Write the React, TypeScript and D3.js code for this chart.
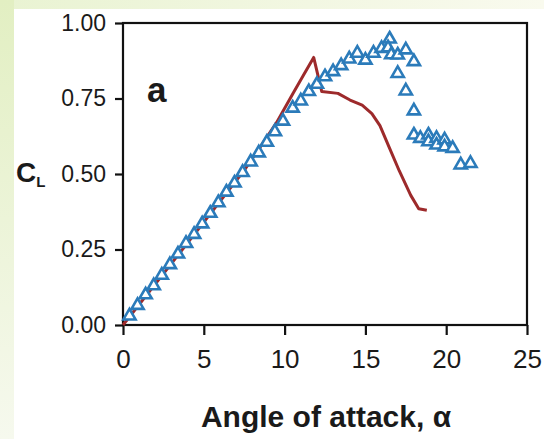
import React, { useEffect, useRef } from "react"
import * as d3 from "d3"

const xTicks = [0, 5, 10, 15, 20, 25]
const yTicks = [0, 0.25, 0.5, 0.75, 1.0]

// experiment (triangles)
const expAlpha = [
    0.4, 0.9, 1.4, 1.9, 2.4, 2.9, 3.4, 3.9, 4.4, 4.9, 5.4, 5.9, 6.4, 6.9, 7.4, 7.9, 8.4, 8.9, 9.4, 9.9,
    10.5, 11.0, 11.5, 12.0, 12.5, 13.0, 13.5, 14.0, 14.5, 15.0, 15.5, 16.0, 16.5, 16.4, 16.6, 17.0, 17.5,
    18.0, 17.0, 17.5, 18.0, 18.0, 18.4, 18.9, 18.9, 19.4, 19.4, 19.9, 19.9, 20.4, 20.9, 21.5,
]
const expCl = [
    0.03, 0.065, 0.1, 0.13, 0.165, 0.2, 0.235, 0.27, 0.3, 0.335, 0.37, 0.405, 0.44, 0.47, 0.505, 0.54, 0.57, 0.605, 0.64, 0.675,
    0.718, 0.742, 0.773, 0.797, 0.822, 0.839, 0.859, 0.881, 0.9, 0.877, 0.9, 0.916, 0.947, 0.918, 0.895, 0.894, 0.911,
    0.872, 0.833, 0.775, 0.709, 0.629, 0.618, 0.629, 0.607, 0.618, 0.596, 0.613, 0.59, 0.585, 0.53, 0.535,
]

// simulation (red line)
const simAlpha = [0, 4, 7.5, 8.5, 9.5, 10.5, 11.2, 11.8, 12.3, 13.3, 14.05, 14.8, 15.4, 15.9, 16.5, 17.1, 17.8, 18.3, 18.8]
const simCl = [0.0, 0.272, 0.512, 0.59, 0.67, 0.765, 0.83, 0.886, 0.773, 0.767, 0.745, 0.728, 0.7, 0.66, 0.585, 0.51, 0.43, 0.385, 0.38]

const FONT = "'Liberation Sans', Arial, Helvetica, sans-serif"

function App() {
    const svgRef = useRef<SVGSVGElement>(null)

    useEffect(() => {
        const width = 544
        const height = 439

        const svg = d3.select(svgRef.current)
        svg.selectAll("*").remove()
        svg.attr("width", width).attr("height", height)

        // page background: green strip on left and top
        const defs = svg.append("defs")
        const lg = defs.append("linearGradient").attr("id", "bgLeft")
            .attr("x1", 0).attr("y1", 0).attr("x2", 0).attr("y2", 1)
        lg.append("stop").attr("offset", "0%").attr("stop-color", "#e2efc2")
        lg.append("stop").attr("offset", "100%").attr("stop-color", "#f6f9ee")
        const tg = defs.append("linearGradient").attr("id", "bgTop")
            .attr("x1", 0).attr("y1", 0).attr("x2", 1).attr("y2", 0)
        tg.append("stop").attr("offset", "0%").attr("stop-color", "#e9f3d2")
        tg.append("stop").attr("offset", "100%").attr("stop-color", "#f9faee")

        svg.append("rect").attr("width", width).attr("height", height).attr("fill", "url(#bgTop)")
        svg.append("rect").attr("width", 14).attr("height", height).attr("fill", "url(#bgLeft)")
        svg.append("rect").attr("x", 14).attr("y", 9).attr("width", width - 14).attr("height", height - 9).attr("fill", "#ffffff")

        const x = d3.scaleLinear().domain([0, 25]).range([123, 527])
        const y = d3.scaleLinear().domain([0, 1]).range([325, 23])

        // frame
        svg.append("rect")
            .attr("x", x(0)).attr("y", y(1))
            .attr("width", x(25) - x(0)).attr("height", y(0) - y(1))
            .attr("fill", "none").attr("stroke", "#111").attr("stroke-width", 2.2)

        const xAxis = svg.append("g")
            .attr("transform", `translate(0,${y(0)})`)
            .call(d3.axisBottom(x).tickValues(xTicks).tickSize(10).tickSizeOuter(0).tickPadding(15))
        xAxis.select(".domain").remove()
        xAxis.selectAll("line").attr("stroke", "#111").attr("stroke-width", 2.2)
        xAxis.selectAll("text")
            .attr("fill", "#1a1a1a")
            .style("font-family", FONT)
            .style("font-size", "26px")

        const yAxis = svg.append("g")
            .attr("transform", `translate(${x(0)},0)`)
            .call(d3.axisLeft(y).tickValues(yTicks).tickSize(8).tickSizeOuter(0).tickPadding(9).tickFormat(d3.format(".2f")))
        yAxis.select(".domain").remove()
        yAxis.selectAll("line").attr("stroke", "#111").attr("stroke-width", 2.2)
        yAxis.selectAll("text")
            .attr("fill", "#1a1a1a")
            .style("font-family", FONT)
            .style("font-size", "23px")

        // red line
        const line = d3.line<number>()
            .x((d, i) => x(simAlpha[i]))
            .y((d) => y(d))
        svg.append("path")
            .datum(simCl)
            .attr("d", line)
            .attr("fill", "none")
            .attr("stroke", "#9d2a2b")
            .attr("stroke-width", 3)
            .attr("stroke-linejoin", "round")

        // triangles
        const tri = d3.symbol().type(d3.symbolTriangle).size(64)
        svg.append("g")
            .selectAll("path")
            .data(expCl)
            .join("path")
            .attr("d", tri)
            .attr("transform", (d, i) => `translate(${x(expAlpha[i])},${y(d)})`)
            .attr("fill", "#ffffff")
            .attr("stroke", "#2b7bba")
            .attr("stroke-width", 2.6)

        // panel label
        svg.append("text")
            .attr("x", 147).attr("y", 102)
            .attr("fill", "#1a1a1a")
            .style("font-family", FONT)
            .style("font-size", "35px")
            .style("font-weight", "bold")
            .text("a")

        // y label C_L
        const cl = svg.append("text")
            .attr("x", 16).attr("y", 182)
            .attr("fill", "#1a1a1a")
            .style("font-family", FONT)
            .style("font-weight", "bold")
        cl.append("tspan").style("font-size", "28px").text("C")
        cl.append("tspan").attr("dy", 5).style("font-size", "15px").text("L")

        // x label
        svg.append("text")
            .attr("x", 326).attr("y", 427)
            .attr("text-anchor", "middle")
            .attr("fill", "#1a1a1a")
            .style("font-family", FONT)
            .style("font-size", "30px")
            .style("font-weight", "bold")
            .text("Angle of attack, α")
    }, [])

    return (
        <svg
            ref={svgRef}
            style={{ position: "absolute", left: 0, top: 0, display: "block" }}
        />
    )
}

export default App
